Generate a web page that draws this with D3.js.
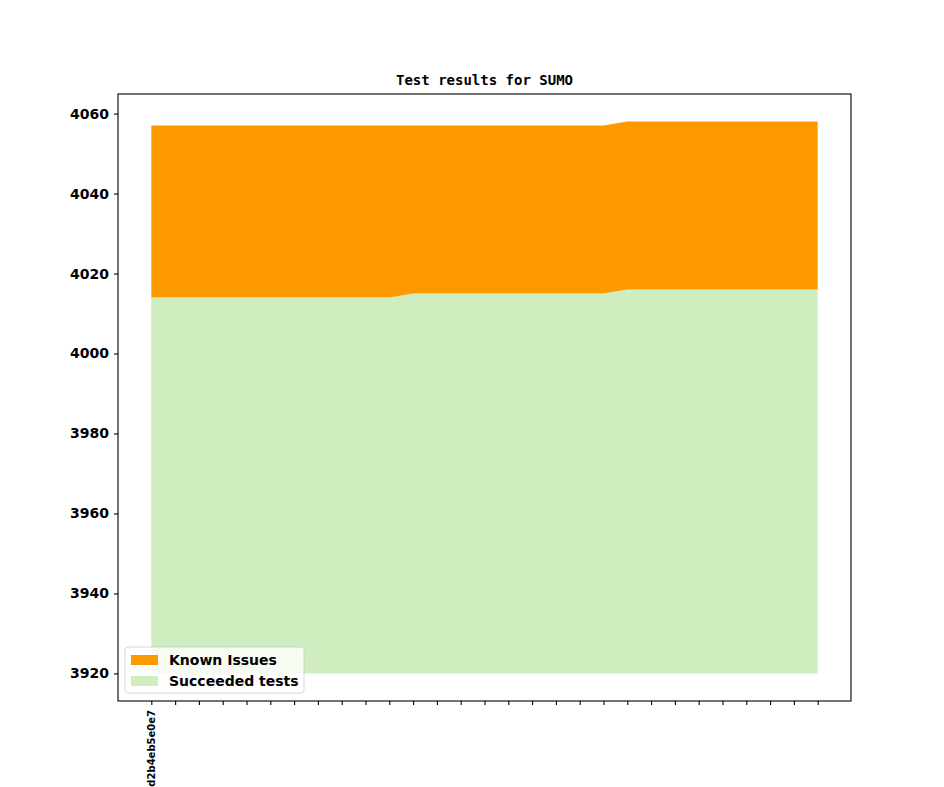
<!DOCTYPE html>
<html>
<head>
<meta charset="utf-8">
<script src="https://cdn.jsdelivr.net/npm/d3@7"></script>
<style>
  body { margin: 0; background: #fff; }
  text { font-family: "DejaVu Sans", sans-serif; font-weight: bold; }
  .title { font-family: "DejaVu Sans Mono", monospace; font-size: 14px; }
  .axis path, .axis line { stroke: #000; stroke-width: 1.1; }
</style>
</head>
<body>
<div id="chart"></div>
<script>
  // commits on x (only the first one is labelled)
  const commits = ["d2b4eb5e0e7"].concat(d3.range(28).map(() => ""));
  const succeeded = [
    4014, 4014, 4014, 4014, 4014, 4014, 4014, 4014, 4014, 4014, 4014,
    4015, 4015, 4015, 4015, 4015, 4015, 4015, 4015, 4015,
    4016, 4016, 4016, 4016, 4016, 4016, 4016, 4016, 4016
  ];
  const knownIssues = [
    43, 43, 43, 43, 43, 43, 43, 43, 43, 43, 43,
    42, 42, 42, 42, 42, 42, 42, 42, 42,
    42, 42, 42, 42, 42, 42, 42, 42, 42
  ];
  const baseline = 3920;
  const yTicks = [3920, 3940, 3960, 3980, 4000, 4020, 4040, 4060];

  const width = 944, height = 787;
  const margin = { top: 94, right: 93, bottom: 86, left: 118 };
  const w = width - margin.left - margin.right;
  const h = height - margin.top - margin.bottom;

  const svg = d3.select("#chart").append("svg")
    .attr("width", width)
    .attr("height", height);

  const g = svg.append("g")
    .attr("transform", "translate(" + margin.left + "," + margin.top + ")");

  // matplotlib-like 5% margins
  const n = commits.length;
  const xPad = (n - 1) * 0.05;
  const xScale = d3.scaleLinear().domain([-xPad, n - 1 + xPad]).range([0, w]);

  const tops = succeeded.map((s, i) => s + knownIssues[i]);
  const yMin = baseline, yMax = d3.max(tops);
  const yPad = (yMax - yMin) * 0.05;
  const yScale = d3.scaleLinear().domain([yMin - yPad, yMax + yPad]).range([h, 0]);

  const rows = commits.map((c, i) => ({ i: i, s: succeeded[i], t: tops[i] }));

  const succArea = d3.area()
    .x(d => xScale(d.i))
    .y0(yScale(baseline))
    .y1(d => yScale(d.s));

  const knownArea = d3.area()
    .x(d => xScale(d.i))
    .y0(d => yScale(d.s))
    .y1(d => yScale(d.t));

  g.append("path").datum(rows)
    .attr("d", succArea)
    .style("fill", "#cfedbf");

  g.append("path").datum(rows)
    .attr("d", knownArea)
    .style("fill", "#ff9900");

  // axes
  const xAxis = d3.axisBottom(xScale)
    .tickValues(d3.range(n))
    .tickSize(4)
    .tickFormat(i => commits[i]);

  const xg = g.append("g")
    .attr("class", "x axis")
    .attr("transform", "translate(0," + h + ")")
    .call(xAxis);
  xg.select(".domain").remove();
  xg.selectAll("text")
    .style("font-size", "10px")
    .attr("text-anchor", "end")
    .attr("transform", "rotate(-90)")
    .attr("x", -9)
    .attr("y", 0)
    .attr("dy", "0.35em");

  const yg = g.append("g")
    .attr("class", "y axis")
    .call(d3.axisLeft(yScale).tickValues(yTicks).tickSize(4).tickPadding(5)
      .tickFormat(d3.format("d")));
  yg.select(".domain").remove();
  yg.selectAll("text").style("font-size", "14px").attr("fill", "#000");

  // frame
  g.append("rect")
    .attr("width", w)
    .attr("height", h)
    .style("fill", "none")
    .style("stroke", "#000")
    .style("stroke-width", 1.1);

  svg.append("text")
    .attr("class", "title")
    .attr("text-anchor", "middle")
    .attr("x", margin.left + w / 2)
    .attr("y", margin.top - 9)
    .text("Test results for SUMO");

  // legend
  const legendItems = [
    { label: "Known Issues", color: "#ff9900" },
    { label: "Succeeded tests", color: "#cfedbf" }
  ];
  const lg = g.append("g").attr("transform", "translate(7," + (h - 54) + ")");
  lg.append("rect")
    .attr("width", 179)
    .attr("height", 46)
    .attr("rx", 3)
    .style("fill", "#fff")
    .style("fill-opacity", 0.8)
    .style("stroke", "#ccc")
    .style("stroke-width", 0.8);
  legendItems.forEach((d, k) => {
    lg.append("rect")
      .attr("x", 6)
      .attr("y", 8 + k * 21)
      .attr("width", 27)
      .attr("height", 10)
      .style("fill", d.color);
    lg.append("text")
      .attr("x", 44)
      .attr("y", 13 + k * 21)
      .attr("dy", "0.35em")
      .style("font-size", "14px")
      .text(d.label);
  });
</script>
</body>
</html>
